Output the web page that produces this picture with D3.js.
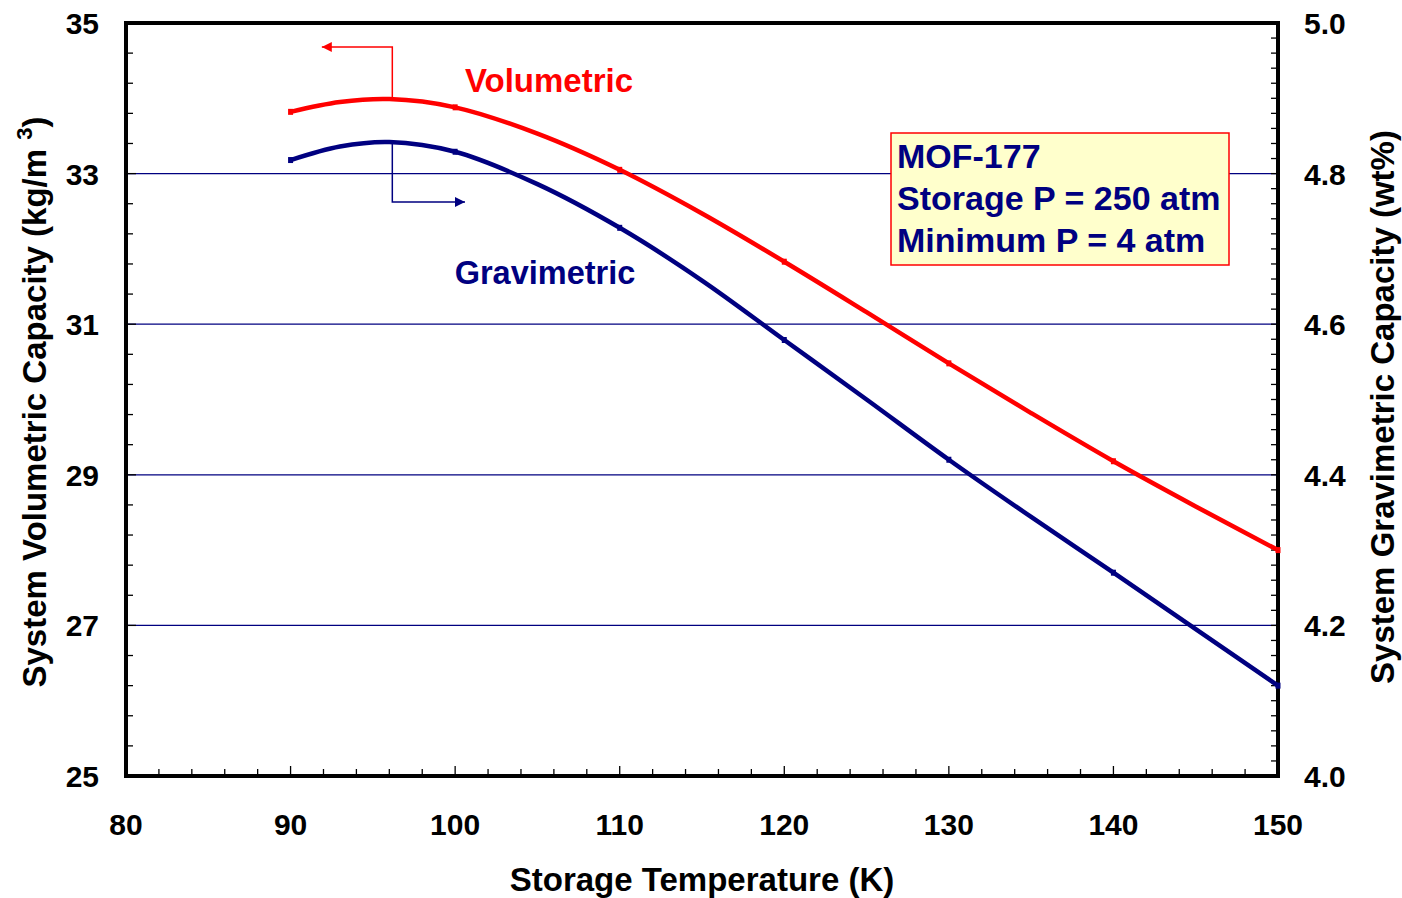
<!DOCTYPE html>
<html><head><meta charset="utf-8">
<script src="https://cdn.jsdelivr.net/npm/d3@7/dist/d3.min.js"></script>
<style>body{margin:0;background:#fff}svg{display:block}text{font-family:"Liberation Sans",Arial,sans-serif;font-weight:bold}</style>
</head><body><svg id="c" width="1402" height="898"></svg>
<script>
const temps = [90, 93, 96, 100, 105, 110, 115, 120, 125, 130, 135, 140, 145, 150];
const volumetric = [33.82, 33.95, 33.99, 33.88, 33.53, 33.05, 32.47, 31.83, 31.16, 30.48, 29.82, 29.18, 28.58, 28.00];
const gravimetric = [4.818, 4.836, 4.842, 4.829, 4.786, 4.728, 4.658, 4.579, 4.500, 4.420, 4.344, 4.270, 4.195, 4.120];
const markerTemps = [90, 100, 110, 120, 130, 140, 150];
const xTicks = [80, 90, 100, 110, 120, 130, 140, 150];
const yLeftTicks = [25, 27, 29, 31, 33, 35];
const yRightTicks = [4.0, 4.2, 4.4, 4.6, 4.8, 5.0];
const gridVals = [27, 29, 31, 33];
const peakT = 96;
const boxLines = ["MOF-177", "Storage P = 250 atm", "Minimum P = 4 atm"];

const svg = d3.select("#c");
const L = 126, R = 1278, T = 23, B = 776;
const x = d3.scaleLinear().domain([80, 150]).range([L, R]);
const yL = d3.scaleLinear().domain([25, 35]).range([B, T]);
const yR = d3.scaleLinear().domain([4.0, 5.0]).range([B, T]);
const navy = "#000080", red = "#ff0000";

// gridlines
svg.append("g").selectAll("line").data(gridVals).join("line")
  .attr("x1", L).attr("x2", R).attr("y1", d => yL(d)).attr("y2", d => yL(d))
  .attr("stroke", navy).attr("stroke-width", 1.3);

// minor ticks
const tk = svg.append("g").attr("stroke", "#000").attr("stroke-width", 1.3);
d3.range(80, 150.001, 2).forEach(v => {
  const major = Math.abs(v % 10) < 1e-6;
  tk.append("line").attr("x1", x(v)).attr("x2", x(v)).attr("y1", B).attr("y2", B - (major ? 10 : 7));
});
d3.range(25, 35.001, 0.4).forEach(v => {
  const major = Math.abs((v - 25) / 2 - Math.round((v - 25) / 2)) < 1e-6;
  tk.append("line").attr("x1", L).attr("x2", L + (major ? 10 : 7)).attr("y1", yL(v)).attr("y2", yL(v));
});
d3.range(4.0, 5.0001, 0.02).forEach(v => {
  tk.append("line").attr("x1", R).attr("x2", R - 7).attr("y1", yR(v)).attr("y2", yR(v));
});

// frame
svg.append("rect").attr("x", L).attr("y", T).attr("width", R - L).attr("height", B - T)
  .attr("fill", "none").attr("stroke", "#000").attr("stroke-width", 4);

// tick labels
const lab = svg.append("g").attr("font-size", 30).attr("fill", "#000");
lab.selectAll(".xl").data(xTicks).join("text").attr("x", d => x(d)).attr("y", 835)
  .attr("text-anchor", "middle").text(d => d);
lab.selectAll(".yl").data(yLeftTicks).join("text").attr("x", 99).attr("y", d => yL(d) + 11)
  .attr("text-anchor", "end").text(d => d);
lab.selectAll(".yr").data(yRightTicks).join("text").attr("x", 1304).attr("y", d => yR(d) + 11)
  .attr("text-anchor", "start").text(d => d.toFixed(1));

// axis titles
svg.append("text").attr("x", 702).attr("y", 891).attr("text-anchor", "middle").attr("font-size", 33)
  .text("Storage Temperature (K)");
const lt = svg.append("text").attr("transform", "translate(46,402) rotate(-90)").attr("text-anchor", "middle").attr("font-size", 33);
lt.append("tspan").text("System Volumetric Capacity (kg/m ");
lt.append("tspan").attr("font-size", 22).attr("dy", -14).text("3");
lt.append("tspan").attr("dy", 14).text(")");
svg.append("text").attr("transform", "translate(1394,407) rotate(-90)").attr("text-anchor", "middle").attr("font-size", 33)
  .text("System Gravimetric Capacity (wt%)");

// curves
const lineV = d3.line().x((d, i) => x(temps[i])).y(d => yL(d)).curve(d3.curveCatmullRom.alpha(0.5));
const lineG = d3.line().x((d, i) => x(temps[i])).y(d => yR(d)).curve(d3.curveCatmullRom.alpha(0.5));
svg.append("path").attr("d", lineV(volumetric)).attr("fill", "none").attr("stroke", red).attr("stroke-width", 4.5);
svg.append("path").attr("d", lineG(gravimetric)).attr("fill", "none").attr("stroke", navy).attr("stroke-width", 4.5);

// small markers
markerTemps.forEach(t => {
  const i = temps.indexOf(t);
  svg.append("line").attr("x1", x(t) - 2.5).attr("x2", x(t) + 2.5).attr("y1", yL(volumetric[i])).attr("y2", yL(volumetric[i]))
    .attr("stroke", red).attr("stroke-width", 6);
  svg.append("line").attr("x1", x(t) - 2.5).attr("x2", x(t) + 2.5).attr("y1", yR(gravimetric[i])).attr("y2", yR(gravimetric[i]))
    .attr("stroke", navy).attr("stroke-width", 6);
});

// arrows
const defs = svg.append("defs");
[["ar", red], ["ab", navy]].forEach(([id, c]) => {
  defs.append("marker").attr("id", id).attr("viewBox", "0 0 10 10").attr("refX", 10).attr("refY", 5)
    .attr("markerWidth", 14).attr("markerHeight", 10).attr("markerUnits", "userSpaceOnUse").attr("orient", "auto")
    .append("path").attr("d", "M0,0L10,5L0,10Z").attr("fill", c);
});
const px = x(peakT) + 3;
svg.append("path").attr("d", `M${px},${yL(volumetric[2]) - 2}L${px},47L${x(91.9)},47`)
  .attr("fill", "none").attr("stroke", red).attr("stroke-width", 1.5).attr("marker-end", "url(#ar)");
svg.append("path").attr("d", `M${px},${yR(gravimetric[2]) + 2}L${px},202L${x(100.6)},202`)
  .attr("fill", "none").attr("stroke", navy).attr("stroke-width", 1.5).attr("marker-end", "url(#ab)");

// series labels
svg.append("text").attr("x", 549).attr("y", 92).attr("text-anchor", "middle").attr("font-size", 33).attr("fill", red).text("Volumetric");
svg.append("text").attr("x", 545).attr("y", 284).attr("text-anchor", "middle").attr("font-size", 32.5).attr("fill", navy).text("Gravimetric");

// info box
svg.append("rect").attr("x", 891).attr("y", 133).attr("width", 338).attr("height", 132)
  .attr("fill", "#ffffcc").attr("stroke", red).attr("stroke-width", 1.5);
svg.append("g").selectAll("text").data(boxLines).join("text")
  .attr("x", 897).attr("y", (d, i) => 168 + i * 42).attr("font-size", 34).attr("fill", navy).text(d => d);
</script></body></html>
